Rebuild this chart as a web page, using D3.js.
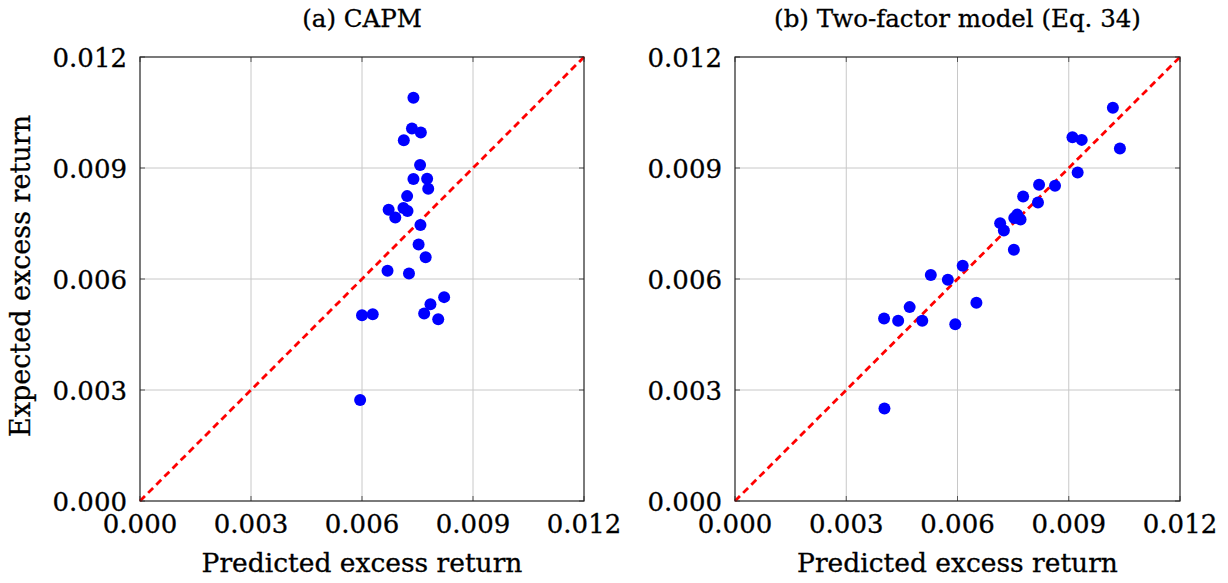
<!DOCTYPE html>
<html>
<head>
<meta charset="utf-8">
<script src="https://cdn.jsdelivr.net/npm/d3@7"></script>
<style>
  html, body { margin: 0; padding: 0; background: #fff; }
  svg { display: block; }
  text { font-family: "DejaVu Serif", serif; fill: #000; stroke: #000; stroke-width: 0.3px; }
</style>
</head>
<body>
<svg id="chart" width="1228" height="583"></svg>
<script>
// ---- Data ----
const tickValues = [0.000, 0.003, 0.006, 0.009, 0.012];
const tickLabels = ["0.000", "0.003", "0.006", "0.009", "0.012"];

const capmPredicted = [0.00739, 0.00735, 0.00759, 0.00713, 0.00757, 0.00739, 0.00776, 0.00779,
  0.00722, 0.00672, 0.00712, 0.00723, 0.00690, 0.00758, 0.00753, 0.00772,
  0.00669, 0.00727, 0.00600, 0.00629, 0.00822, 0.00785, 0.00768, 0.00806, 0.00595];
const capmExpected = [0.01090, 0.01007, 0.00996, 0.00975, 0.00908, 0.00870, 0.00871, 0.00844,
  0.00824, 0.00787, 0.00792, 0.00784, 0.00766, 0.00746, 0.00693, 0.00659,
  0.00622, 0.00615, 0.00502, 0.00505, 0.00551, 0.00532, 0.00507, 0.00491, 0.00273];

const twoPredicted = [0.01019, 0.00910, 0.00935, 0.01038, 0.00924, 0.00863, 0.00820, 0.00777,
  0.00817, 0.00761, 0.00753, 0.00770, 0.00715, 0.00725, 0.00752, 0.00614,
  0.00528, 0.00574, 0.00651, 0.00471, 0.00402, 0.00440, 0.00505, 0.00594, 0.00403];
const twoExpected = [0.01063, 0.00983, 0.00976, 0.00953, 0.00888, 0.00852, 0.00855, 0.00823,
  0.00807, 0.00774, 0.00765, 0.00761, 0.00751, 0.00731, 0.00679, 0.00636,
  0.00611, 0.00598, 0.00536, 0.00524, 0.00493, 0.00487, 0.00487, 0.00478, 0.00250];

const panels = [
  { title: "(a) CAPM", x: capmPredicted, y: capmExpected, left: 140, right: 584, yLabel: true },
  { title: "(b) Two-factor model (Eq. 34)", x: twoPredicted, y: twoExpected, left: 735, right: 1180, yLabel: false }
];

const plotTop = 57, plotBottom = 501;
const svg = d3.select("#chart");

panels.forEach(p => {
  const xs = d3.scaleLinear().domain([0, 0.012]).range([p.left, p.right]);
  const ys = d3.scaleLinear().domain([0, 0.012]).range([plotBottom, plotTop]);
  const g = svg.append("g");

  // grid
  g.append("g").selectAll("line").data(tickValues.slice(1, -1)).join("line")
    .attr("x1", d => xs(d)).attr("x2", d => xs(d)).attr("y1", plotTop).attr("y2", plotBottom)
    .attr("stroke", "#c8c8c8").attr("stroke-width", 1);
  g.append("g").selectAll("line").data(tickValues.slice(1, -1)).join("line")
    .attr("y1", d => ys(d)).attr("y2", d => ys(d)).attr("x1", p.left).attr("x2", p.right)
    .attr("stroke", "#c8c8c8").attr("stroke-width", 1);

  // inward tick marks
  const tl = 5;
  const tk = g.append("g").attr("stroke", "#555").attr("stroke-width", 1);
  tickValues.forEach(v => {
    tk.append("line").attr("x1", xs(v)).attr("x2", xs(v)).attr("y1", plotBottom).attr("y2", plotBottom - tl);
    tk.append("line").attr("x1", xs(v)).attr("x2", xs(v)).attr("y1", plotTop).attr("y2", plotTop + tl);
    tk.append("line").attr("y1", ys(v)).attr("y2", ys(v)).attr("x1", p.left).attr("x2", p.left + tl);
    tk.append("line").attr("y1", ys(v)).attr("y2", ys(v)).attr("x1", p.right).attr("x2", p.right - tl);
  });

  // diagonal
  g.append("line")
    .attr("x1", xs(0)).attr("y1", ys(0)).attr("x2", xs(0.012)).attr("y2", ys(0.012))
    .attr("stroke", "#ff0000").attr("stroke-width", 2.8).attr("stroke-dasharray", "7,4.5");

  // points
  const pts = p.x.map((v, i) => ({ x: v, y: p.y[i] }));
  g.append("g").selectAll("circle").data(pts).join("circle")
    .attr("cx", d => xs(d.x)).attr("cy", d => ys(d.y)).attr("r", 6)
    .attr("fill", "#0000ff");

  // frame
  g.append("rect").attr("x", p.left).attr("y", plotTop)
    .attr("width", p.right - p.left).attr("height", plotBottom - plotTop)
    .attr("fill", "none").attr("stroke", "#222").attr("stroke-width", 1.2);

  // x tick labels
  g.append("g").selectAll("text").data(tickValues).join("text")
    .attr("x", d => xs(d)).attr("y", plotBottom + 32)
    .attr("text-anchor", "middle").attr("font-size", 26)
    .text((d, i) => tickLabels[i]);

  // y tick labels
  g.append("g").selectAll("text").data(tickValues).join("text")
    .attr("x", p.left - 13).attr("y", d => ys(d) + 10)
    .attr("text-anchor", "end").attr("font-size", 26)
    .text((d, i) => tickLabels[i]);

  // title
  g.append("text").attr("x", (p.left + p.right) / 2).attr("y", 27)
    .attr("text-anchor", "middle").attr("font-size", 24.5).text(p.title);

  // x label
  g.append("text").attr("x", (p.left + p.right) / 2).attr("y", 572)
    .attr("text-anchor", "middle").attr("font-size", 26.5).text("Predicted excess return");

  if (p.yLabel) {
    g.append("text")
      .attr("transform", `translate(30, 276) rotate(-90)`)
      .attr("text-anchor", "middle").attr("font-size", 27).text("Expected excess return");
  }
});
</script>
</body>
</html>
